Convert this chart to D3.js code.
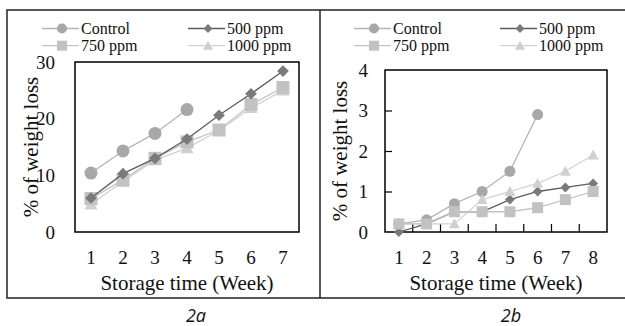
<!DOCTYPE html>
<html lang="en">
<head>
  <meta charset="UTF-8">
  <title>Weight loss</title>
</head>
<body style="margin:0; background:#fff">
  <svg id="svg" width="625" height="326"></svg>
  <script src="https://cdn.jsdelivr.net/npm/d3@7"></script>
  <script>
    // series names for the legend
    const seriesNames = ['Control', '500 ppm', '750 ppm', '1000 ppm']

    // panel 2a: weeks 1-7
    const weeksA = [1, 2, 3, 4, 5, 6, 7]
    const controlA = [10.4, 14.3, 17.4, 21.6]
    const ppm500A = [6.0, 10.3, 13.0, 16.4, 20.6, 24.4, 28.4]
    const ppm750A = [5.9, 9.2, 13.0, 15.9, 18.0, 22.5, 25.5]
    const ppm1000A = [4.9, 8.9, 12.7, 14.8, 17.9, 21.9, 25.0]
    const yTicksA = [0, 10, 20, 30]

    // panel 2b: weeks 1-8
    const weeksB = [1, 2, 3, 4, 5, 6, 7, 8]
    const controlB = [0.2, 0.3, 0.7, 1.0, 1.5, 2.9]
    const ppm500B = [0.0, 0.2, 0.5, 0.5, 0.8, 1.0, 1.1, 1.2]
    const ppm750B = [0.2, 0.2, 0.5, 0.5, 0.5, 0.6, 0.8, 1.0]
    const ppm1000B = [0.2, 0.2, 0.2, 0.8, 1.0, 1.2, 1.5, 1.9]
    const yTicksB = [0, 1, 2, 3, 4]

    const svg = d3.select('#svg')

    // style per series: marker shape, fill and line colour
    const styles = {
      'Control': { shape: 'circle', fill: '#a8a8a8', stroke: '#b4b4b4' },
      '500 ppm': { shape: 'diamond', fill: '#7a7a7a', stroke: '#5c5c5c' },
      '750 ppm': { shape: 'square', fill: '#c2c2c2', stroke: '#c4c4c4' },
      '1000 ppm': { shape: 'triangle', fill: '#d0d0d0', stroke: '#d2d2d2' }
    }

    function marker(sel, shape, s, fill) {
      if (shape === 'circle') {
        sel.append('circle').attr('r', s * 0.5).attr('fill', fill)
      } else if (shape === 'square') {
        sel.append('rect').attr('x', -s / 2).attr('y', -s / 2)
          .attr('width', s).attr('height', s).attr('fill', fill)
      } else if (shape === 'diamond') {
        const h = s * 0.45
        sel.append('path').attr('d', `M0,${-h}L${h},0L0,${h}L${-h},0Z`).attr('fill', fill)
      } else {
        const h = s * 0.5
        sel.append('path').attr('d', `M0,${-h}L${h},${h * 0.8}L${-h},${h * 0.8}Z`).attr('fill', fill)
      }
    }

    // same font call as works in the sandbox: one quoted family only
    function serifText(sel, size) {
      sel.style('font-family', '"Liberation Serif"').style('font-size', size + 'px')
        .attr('fill', '#111')
    }

    function drawPanel(cfg) {
      const g = svg.append('g')
      const x = d3.scaleBand().domain(cfg.weeks).range([cfg.left, cfg.right])
      const y = d3.scaleLinear().domain([0, cfg.yMax]).range([cfg.bottom, cfg.top])

      // legend
      const legendPos = [
        [cfg.lx, 28.5], [cfg.lx + 146, 28.5], [cfg.lx, 45.7], [cfg.lx + 146, 45.7]
      ]
      seriesNames.forEach((name, i) => {
        const st = styles[name]
        const [lx, ly] = legendPos[i]
        const lg = g.append('g').attr('transform', `translate(${lx},${ly})`)
        lg.append('line').attr('x1', 0).attr('x2', 37).attr('y1', 0).attr('y2', 0)
          .attr('stroke', st.stroke).attr('stroke-width', 1.3)
        marker(lg.append('g').attr('transform', 'translate(20,0)'), st.shape, 10, st.fill)
        lg.append('text').attr('x', 39).attr('y', 5.5).call(serifText, 16).text(name)
      })

      // plot frame
      g.append('rect')
        .attr('x', cfg.left).attr('y', cfg.top)
        .attr('width', cfg.right - cfg.left).attr('height', cfg.bottom - cfg.top)
        .attr('fill', 'none').attr('stroke', '#000').attr('stroke-width', 1.5)

      // y axis labels (and inward ticks on 2b)
      const yAxis = d3.axisLeft(y).tickValues(cfg.yTicks).tickFormat(d3.format('d'))
        .tickSize(cfg.ticks ? -7 : 0)
        .tickPadding(cfg.left - cfg.labelRight)
      const ya = g.append('g').attr('transform', `translate(${cfg.left},0)`).call(yAxis)
      ya.attr('font-family', null).attr('font-size', null)
      ya.select('.domain').remove()
      ya.selectAll('.tick line').attr('stroke', '#000').attr('stroke-width', 1.2)
        .filter(d => d === 0 || d === cfg.yMax).remove()
      ya.selectAll('text').call(serifText, 19)

      // x axis labels
      const xa = g.append('g').attr('transform', `translate(0,${cfg.bottom})`)
        .call(d3.axisBottom(x).tickSize(0).tickPadding(19))
      xa.attr('font-family', null).attr('font-size', null)
      xa.select('.domain').remove()
      xa.selectAll('text').call(serifText, 19)

      if (cfg.ticks) {
        // inward ticks at band boundaries
        g.selectAll('.xtick').data(cfg.weeks.slice(1)).join('line')
          .attr('x1', d => x(d)).attr('x2', d => x(d))
          .attr('y1', cfg.bottom).attr('y2', cfg.bottom - 8)
          .attr('stroke', '#000').attr('stroke-width', 1.2)
      }

      // axis titles
      g.append('text')
        .attr('x', (cfg.left + cfg.right) / 2).attr('y', 290)
        .attr('text-anchor', 'middle').call(serifText, 21)
        .text('Storage time (Week)')
      g.append('text')
        .attr('transform', `translate(${cfg.titleX},${(cfg.top + cfg.bottom) / 2}) rotate(-90)`)
        .attr('text-anchor', 'middle').call(serifText, 21)
        .text('% of weight loss')

      // series
      const line = d3.line().x(d => x(d.w) + x.bandwidth() / 2).y(d => y(d.v))
      cfg.order.forEach(name => {
        const st = styles[name]
        const pts = cfg.data[name].map((v, i) => ({ w: cfg.weeks[i], v: v }))
        g.append('path').datum(pts).attr('d', line).attr('fill', 'none')
          .attr('stroke', st.stroke).attr('stroke-width', 1.3)
        g.selectAll(null).data(pts).join('g')
          .attr('transform', d => `translate(${x(d.w) + x.bandwidth() / 2},${y(d.v)})`)
          .each(function () { marker(d3.select(this), st.shape, cfg.ms, st.fill) })
      })

      // caption
      g.append('text').attr('x', cfg.capX).attr('y', 322).attr('text-anchor', 'middle')
        .style('font-family', '"Open Sans"').style('font-style', 'italic')
        .style('font-size', '18px').attr('fill', '#111').text(cfg.caption)
    }

    // outer frame
    svg.append('path')
      .attr('d', 'M625,10H7V298H625M320,10V298')
      .attr('fill', 'none').attr('stroke', '#222').attr('stroke-width', 1.5)

    drawPanel({
      weeks: weeksA, yMax: 30, yTicks: yTicksA,
      left: 75, right: 299, top: 62, bottom: 232, labelRight: 55,
      titleX: 38, lx: 42, ms: 13, ticks: false, capX: 196, caption: '2a',
      order: ['Control', '1000 ppm', '750 ppm', '500 ppm'],
      data: { 'Control': controlA, '500 ppm': ppm500A, '750 ppm': ppm750A, '1000 ppm': ppm1000A }
    })

    drawPanel({
      weeks: weeksB, yMax: 4, yTicks: yTicksB,
      left: 385, right: 607, top: 70, bottom: 232, labelRight: 368,
      titleX: 347, lx: 354, ms: 11, ticks: true, capX: 511, caption: '2b',
      order: ['Control', '500 ppm', '1000 ppm', '750 ppm'],
      data: { 'Control': controlB, '500 ppm': ppm500B, '750 ppm': ppm750B, '1000 ppm': ppm1000B }
    })
  </script>
</body>
</html>
